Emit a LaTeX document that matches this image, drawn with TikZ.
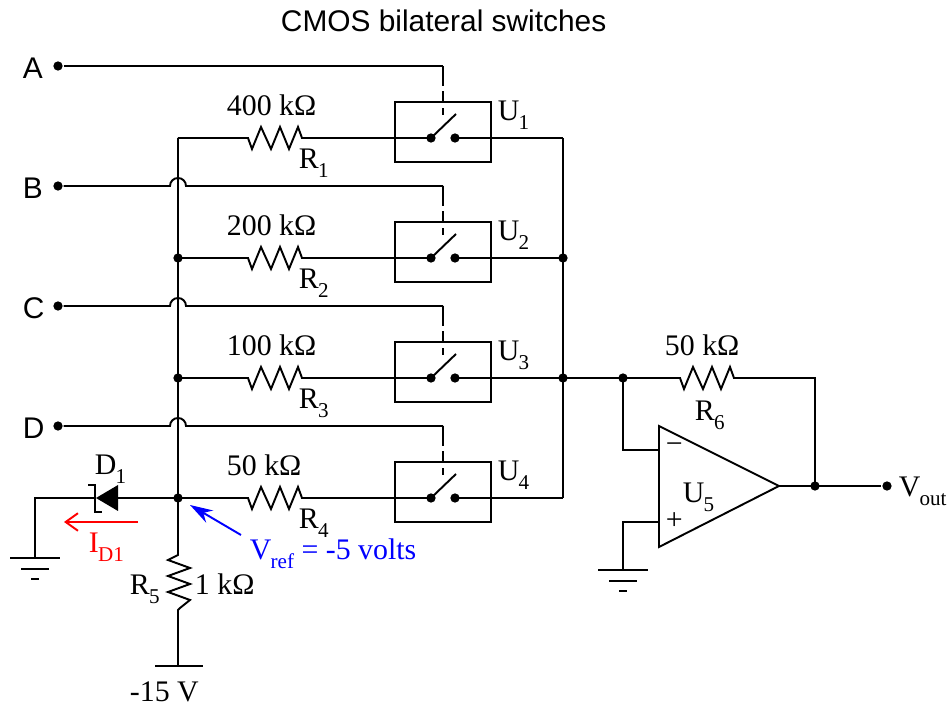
\documentclass[tikz,border=0pt]{standalone}
\usepackage{fontspec}
\setmainfont{Liberation Serif}
\setsansfont{Liberation Sans}
\usetikzlibrary{arrows.meta, calc}

% Zigzags of the resistors
\def\zigzagh{-- ++(4,11) -- ++(9,-22) -- ++(10,22) -- ++(9,-22) -- ++(9,22) -- ++(9,-22) -- ++(4,11)}
\def\zigzagv{-- ++(-10,5) -- ++(22,8) -- ++(-22,8) -- ++(22,8) -- ++(-22,8) -- ++(22,8) -- ++(-10,8)}
\newcommand{\sbs}[1]{\raisebox{-0.28em}{\kern-0.5pt\fontsize{12}{12}\selectfont #1}}

\begin{document}
\begin{tikzpicture}[x=0.02cm, y=-0.02cm, line width=1.1pt,
    dot/.style={circle, fill=black, inner sep=0pt, minimum size=5.3pt},
    label_text/.style={font=\fontsize{17}{17}\selectfont, anchor=base west, inner sep=0pt},
    title_text/.style={font=\fontsize{17}{17}\sffamily\selectfont, anchor=base west, inner sep=0pt},
    control/.style={dash pattern=on 11.4pt off 2.85pt on 6.3pt off 3.4pt on 4pt off 100pt}
]
\useasboundingbox (0,0) rectangle (948,709);

\node[title_text] (title) at (280,32) {CMOS bilateral switches};

% Define coordinates for the buses and the output
\coordinate (bus_top) at (178,138);
\coordinate (bus_out_top) at (563,138);
\coordinate (bus_out_bottom) at (563,498);
\coordinate (bus_ref) at (178,498);
\coordinate (fb_node) at (623,378);
\coordinate (fb_corner) at (815,378);
\coordinate (out_node) at (815,486);
\coordinate (r5_top) at (178,555);
\coordinate (r5_bottom) at (178,610);
\coordinate (supply) at (178,666);

% Switch rows
\foreach \n/\y/\name/\val in {1/138/A/400, 2/258/B/200, 3/378/C/100, 4/498/D/50} {
    \coordinate (row\n) at (178,\y);
    \coordinate (r\n_in) at (248,\y);
    \coordinate (r\n_out) at (302,\y);
    \coordinate (sw\n_in) at (431,\y);
    \coordinate (sw\n_out) at (455,\y);
    \coordinate (sw\n_arm) at (456,\y-24);
    \coordinate (out\n) at (563,\y);
    \coordinate (ctl\n_corner) at (443,\y-72);
    \coordinate (ctl\n_end) at (443,\y-12);

    % Box and switch
    \draw (395,\y-36) rectangle (491,\y+24);
    \node[dot] (c\n_in) at (sw\n_in) {};
    \node[dot] (c\n_out) at (sw\n_out) {};
    \draw (c\n_in.center) -- (sw\n_arm);
    \draw (row\n) -- (r\n_in) \zigzagh -- (c\n_in.center);
    \draw (c\n_out.center) -- (out\n);

    % Control input
    \node[dot] (in\n) at (58,\y-72) {};
    \node[title_text] (name\n) at (22,\y-59) {\name};
    \draw[control] (ctl\n_corner) -- (ctl\n_end);

    % Labels
    \node[label_text] (val\n) at (226,\y-22) {\val\ kΩ};
    \node[label_text] (rname\n) at (298,\y+31) {R\sbs{\n}};
    \node[label_text] (uname\n) at (497,\y-17) {U\sbs{\n}};
}

% Control lines, with a hop over the bus for B, C and D
\draw (in1) -- (ctl1_corner);
\foreach \n in {2,3,4} {
    \coordinate (hop\n) at (in\n -| bus_top);
    \draw (in\n) -- ($(hop\n)+(-8,0)$) arc[start angle=180, end angle=360, radius=8] -- (ctl\n_corner);
}

% Buses
\draw (bus_top) -- (r1_in);
\draw (bus_top) -- (bus_ref) -- (r5_top) \zigzagv -- (r5_bottom) -- (supply);
\draw (bus_out_top) -- (c1_out.center);
\draw (bus_out_top) -- (bus_out_bottom);
\node[dot] at (row2) {};
\node[dot] at (row3) {};
\node[dot] at (bus_ref) {};
\node[dot] at (out2) {};
\node[dot] at (out3) {};

% Supply
\coordinate (sup_l) at (155,666);
\coordinate (sup_r) at (203,666);
\draw (sup_l) -- (sup_r);
\node[label_text] (sup_text) at (129,702) {-15 V};
\node[label_text] (r5_name) at (129,595) {R\sbs{5}};
\node[label_text] (r5_val) at (194,595) {1 kΩ};

% Diode and its ground
\coordinate (d_tip) at (96,498);
\coordinate (d_base) at (118,498);
\coordinate (gnd1) at (35,558);
\coordinate (d_wire) at (35,498);
\draw (bus_ref) -- (d_base);
\draw (d_tip) -- (d_wire) -- (gnd1);
\fill (d_tip) -- (118,485) -- (118,511) -- cycle;
\draw (88,485) -- (95,485) -- (95,512) -- (102,512);
\draw ($(gnd1)+(-25,0)$) -- ($(gnd1)+(25,0)$);
\draw ($(gnd1)+(-14,11)$) -- ($(gnd1)+(14,11)$);
\draw ($(gnd1)+(-4,21)$) -- ($(gnd1)+(4,21)$);
\node[label_text] (d_name) at (94,475) {D\sbs{1}};

% Diode current
\coordinate (id_start) at (138,522);
\coordinate (id_end) at (64,522);
\draw[red, -{Straight Barb[length=7pt, width=10pt]}] (id_start) -- (id_end);
\node[label_text, red] (id_name) at (88,553) {I\sbs{D1}};

% Reference voltage
\coordinate (vref_start) at (241,535);
\coordinate (vref_end) at (190,505);
\draw[blue, -{Stealth[length=13pt, width=8pt]}] (vref_start) -- (vref_end);
\node[label_text, blue] (vref_name) at (249,560) {V\sbs{ref} = -5 volts};

% Op-amp
\coordinate (amp_top) at (659,426);
\coordinate (amp_bottom) at (659,547);
\coordinate (amp_tip) at (779,486);
\coordinate (amp_minus) at (659,450);
\coordinate (amp_plus) at (659,522);
\draw (amp_top) -- (amp_tip) -- (amp_bottom) -- cycle;
\node[label_text] (minus_sign) at (665,454) {−};
\node[label_text] (plus_sign) at (665,530) {+};
\node[label_text] (amp_name) at (682,503) {U\sbs{5}};

% Output wiring
\coordinate (r6_in) at (680,378);
\coordinate (r6_out) at (735,378);
\draw (out3) -- (r6_in) \zigzagh -- (r6_out) -- (fb_corner) -- (out_node);
\draw (fb_node) |- (amp_minus);
\coordinate (gnd2) at (623,570);
\draw (amp_plus) -| (gnd2);
\draw ($(gnd2)+(-25,0)$) -- ($(gnd2)+(25,0)$);
\draw ($(gnd2)+(-14,11)$) -- ($(gnd2)+(14,11)$);
\draw ($(gnd2)+(-4,21)$) -- ($(gnd2)+(4,21)$);
\node[dot] at (fb_node) {};
\node[dot] at (out_node) {};
\node[dot] (vout) at (887,486) {};
\draw (amp_tip) -- (vout);
\node[label_text] (r6_val) at (664,356) {50 kΩ};
\node[label_text] (r6_name) at (694,421) {R\sbs{6}};
\node[label_text] (vout_name) at (898,497) {V\sbs{out}};

\end{tikzpicture}
\end{document}
